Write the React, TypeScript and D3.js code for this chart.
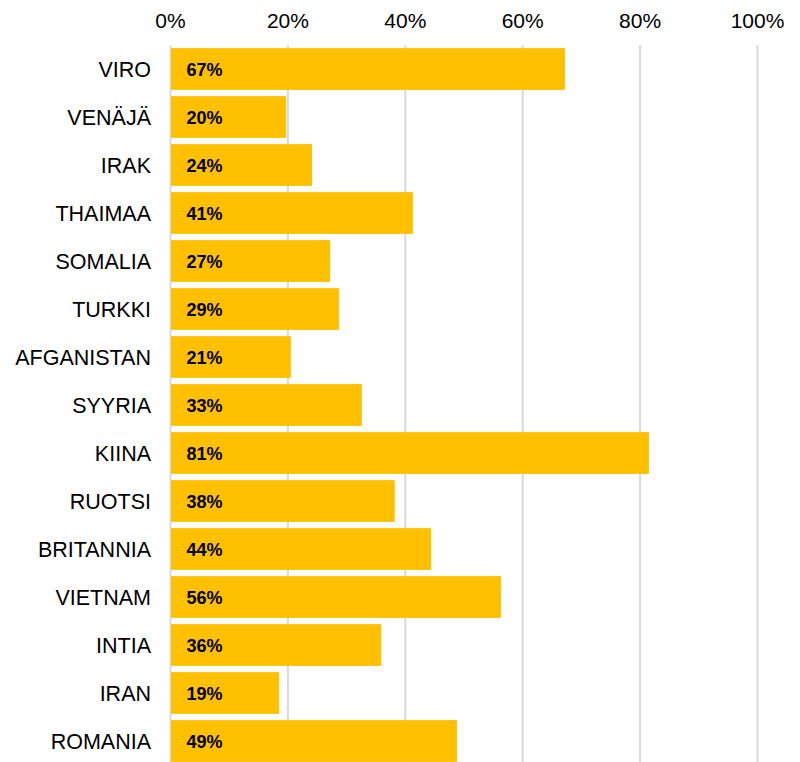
import React from "react";
import * as d3 from "d3";

const categories = ["VIRO", "VENÄJÄ", "IRAK", "THAIMAA", "SOMALIA", "TURKKI", "AFGANISTAN", "SYYRIA", "KIINA", "RUOTSI", "BRITANNIA", "VIETNAM", "INTIA", "IRAN", "ROMANIA"];
const values = [0.672, 0.197, 0.241, 0.413, 0.272, 0.287, 0.205, 0.326, 0.815, 0.382, 0.444, 0.563, 0.359, 0.185, 0.488];
const valueLabels = ["67%", "20%", "24%", "41%", "27%", "29%", "21%", "33%", "81%", "38%", "44%", "56%", "36%", "19%", "49%"];
const ticks = [0, 0.2, 0.4, 0.6, 0.8, 1.0];

const W = 800;
const H = 762;

export default function App() {
  const x = d3.scaleLinear().domain([0, 1]).range([170.5, 757.5]);
  const y = d3
    .scaleBand<string>()
    .domain(categories)
    .range([45, 765])
    .paddingInner(0.13)
    .paddingOuter(0.065);
  const font = "'Liberation Sans', Arial, sans-serif";
  return (
    <div style={{ position: "absolute", left: 0, top: 0 }}>
      <svg width={W} height={H} style={{ display: "block" }}>
        <rect width={W} height={H} fill="#fff" />
        {ticks.map((t) => (
          <g key={t}>
            <line x1={x(t)} x2={x(t)} y1={45} y2={H} stroke="#d9d9d9" strokeWidth={2} />
            <text x={x(t)} y={28} textAnchor="middle" fontFamily={font} fontSize={21} fill="#000">
              {d3.format(".0%")(t)}
            </text>
          </g>
        ))}
        {categories.map((c, i) => {
          const yy = y(c)!;
          const bw = y.bandwidth();
          return (
            <g key={c}>
              <rect x={x(0) + 0.5} y={yy} width={x(values[i]) - x(0) - 0.5} height={bw} fill="#FFC000" />
              <text x={151} y={yy + bw / 2} dy="0.37em" textAnchor="end" fontFamily={font} fontSize={21.5} fill="#000">
                {c}
              </text>
              <text x={186.5} y={yy + bw / 2} dy="0.38em" fontFamily={font} fontSize={18} fontWeight="bold" fill="#000">
                {valueLabels[i]}
              </text>
            </g>
          );
        })}
      </svg>
    </div>
  );
}
